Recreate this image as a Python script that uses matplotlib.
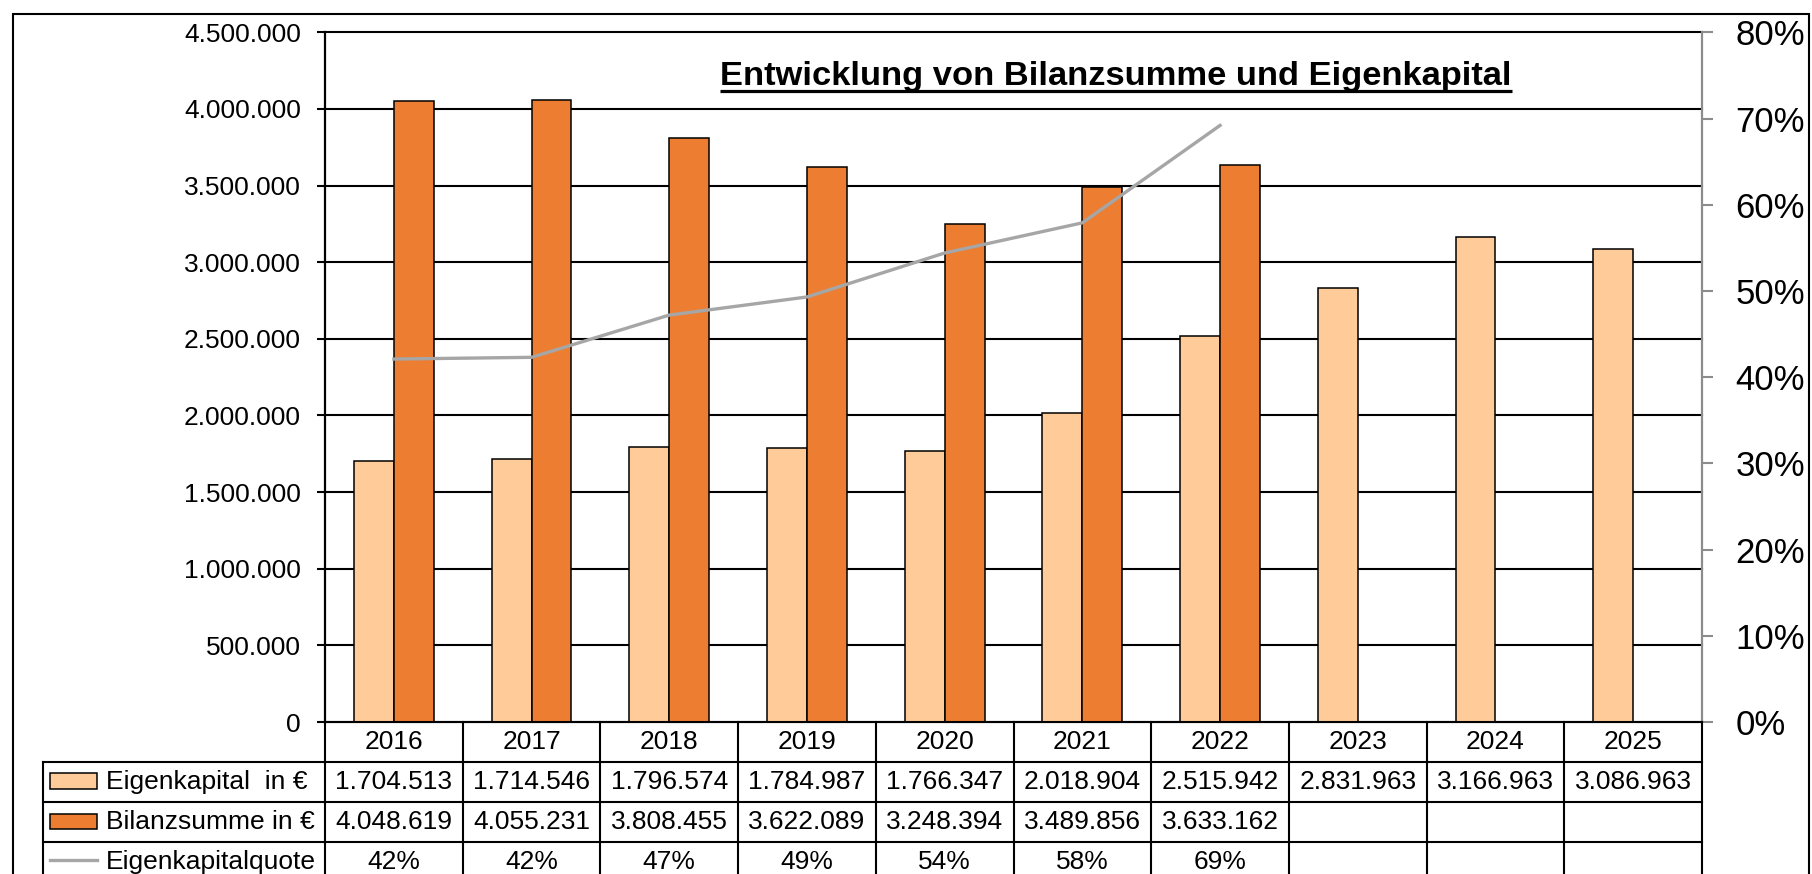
import matplotlib
matplotlib.use("Agg")
import matplotlib.pyplot as plt
from matplotlib.patches import Rectangle
import numpy as np

plt.rcParams['font.family'] = ['Liberation Sans', 'DejaVu Sans']

# ---------------- data ----------------
years = ["2016", "2017", "2018", "2019", "2020", "2021", "2022", "2023", "2024", "2025"]
eigenkapital = [1704513, 1714546, 1796574, 1784987, 1766347, 2018904, 2515942, 2831963, 3166963, 3086963]
bilanzsumme = [4048619, 4055231, 3808455, 3622089, 3248394, 3489856, 3633162]
ek_quote = [0.421, 0.423, 0.472, 0.493, 0.544, 0.579, 0.692]
left_ticks = [0, 500000, 1000000, 1500000, 2000000, 2500000, 3000000, 3500000, 4000000, 4500000]
right_ticks = [0.0, 0.1, 0.2, 0.3, 0.4, 0.5, 0.6, 0.7, 0.8]
series_labels = ["Eigenkapital  in €", "Bilanzsumme in €", "Eigenkapitalquote"]
title = "Entwicklung von Bilanzsumme und Eigenkapital"

LIGHT = "#FFCC99"
DARK = "#ED7D31"
GREY = "#A6A6A6"

W, H = 1812, 874
fig = plt.figure(figsize=(W / 100, H / 100), dpi=100)

def de(v):
    return f"{v:,}".replace(",", ".")

# plot area in pixels
PL, PR, PT, PB = 325, 1702, 32.3, 722
ax = fig.add_axes([PL / W, (H - PB) / H, (PR - PL) / W, (PB - PT) / H])
ax.set_xlim(-0.5, len(years) - 0.5)
ax.set_ylim(0, 4500000)
bw = 0.29
x = np.arange(len(years))
ax.bar(x - bw / 2, eigenkapital, width=bw, color=LIGHT, edgecolor="black", linewidth=1.1, zorder=3)
xb = np.arange(len(bilanzsumme))
ax.bar(xb + bw / 2, bilanzsumme, width=bw, color=DARK, edgecolor="black", linewidth=1.1, zorder=3)
ax.set_yticks(left_ticks)
ax.set_yticklabels([de(v) for v in left_ticks])
ax.tick_params(axis='y', length=5.8, width=1.5, color="black", labelsize=19, pad=11.5)
ax.set_xticks([])
for yv in left_ticks:
    ax.axhline(yv, color="black", linewidth=1.5, zorder=1, clip_on=False)
ax.spines['top'].set_visible(False)
ax.spines['right'].set_visible(False)
ax.spines['bottom'].set_visible(False)
ax.spines['left'].set_linewidth(1.6)

ax2 = ax.twinx()
ax2.set_ylim(0, 0.8)
ax2.plot(np.arange(len(ek_quote)), ek_quote, color=GREY, linewidth=2.4, zorder=4)
ax2.set_yticks(right_ticks)
ax2.set_yticklabels([f"{round(t * 100)}%" for t in right_ticks])
ax2.tick_params(axis='y', length=7.9, width=1.5, color="#8C8C8C", labelsize=25, pad=16)
for s in ['top', 'left', 'bottom']:
    ax2.spines[s].set_visible(False)
ax2.spines['right'].set_color("#8C8C8C")
ax2.spines['right'].set_linewidth(1.6)

# ---------------- overlay in pixel coords ----------------
ov = fig.add_axes([0, 0, 1, 1], zorder=10)
ov.set_xlim(0, W)
ov.set_ylim(H, 0)
ov.axis("off")

# outer frame
ov.plot([13, 13, 1809, 1809], [900, 14, 14, 900], color="black", linewidth=1.5, solid_joinstyle="miter")

# table
cw = (PR - PL) / len(years)
rows = [722, 762, 802, 842, 882]
lw = 1.5
ov.plot([PL, PR], [rows[0], rows[0]], color="black", linewidth=lw)
for r in rows[1:]:
    ov.plot([43, PR], [r, r], color="black", linewidth=lw)
ov.plot([43, 43], [rows[1], rows[-1]], color="black", linewidth=lw)
for i in range(len(years) + 1):
    xx = PL + i * cw
    ov.plot([xx, xx], [rows[0], rows[-1]], color="black", linewidth=lw)

fs = 19
for i, yr in enumerate(years):
    cx = PL + (i + 0.5) * cw
    ov.text(cx, (rows[0] + rows[1]) / 2, yr, ha="center", va="center", fontsize=fs)
    ov.text(cx, (rows[1] + rows[2]) / 2, de(eigenkapital[i]), ha="center", va="center", fontsize=fs)
    if i < len(bilanzsumme):
        ov.text(cx, (rows[2] + rows[3]) / 2, de(bilanzsumme[i]), ha="center", va="center", fontsize=fs)
    if i < len(ek_quote):
        ov.text(cx, (rows[3] + rows[4]) / 2, f"{round(ek_quote[i] * 100)}%", ha="center", va="center", fontsize=fs)

# legend column
ov.add_patch(Rectangle((50, 773), 47, 16, facecolor=LIGHT, edgecolor="black", linewidth=1.1))
ov.add_patch(Rectangle((50, 814), 47, 15, facecolor=DARK, edgecolor="black", linewidth=1.1))
ov.plot([50, 97], [860, 860], color=GREY, linewidth=2.4)
for k, lab in enumerate(series_labels):
    ov.text(106, (rows[k + 1] + rows[k + 2]) / 2, lab, ha="left", va="center", fontsize=fs)

# title with underline
t = ov.text(1116, 85, title, ha="center", va="baseline", fontsize=24.8, fontweight="bold")
fig.canvas.draw()
bb = t.get_window_extent()
ov.plot([bb.x0, bb.x1], [91, 91], color="black", linewidth=2.3, solid_capstyle="butt")

fig.savefig("out.png", dpi=100)
